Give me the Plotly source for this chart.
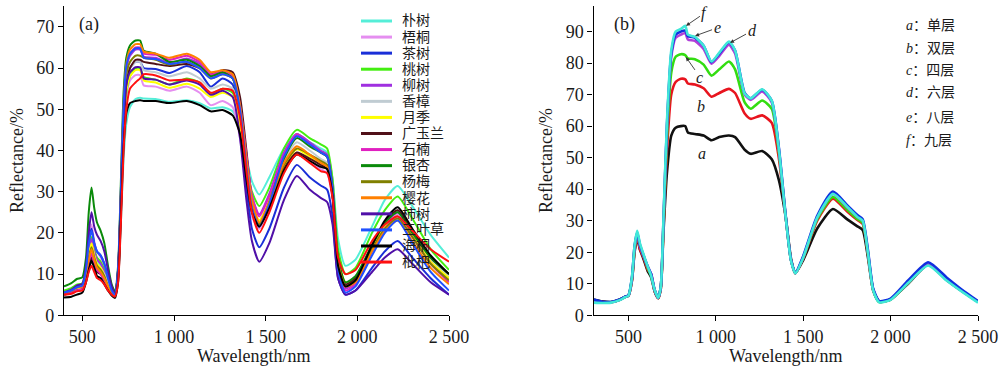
import plotly.graph_objects as go

# ---------------- Panel (a) data ----------------
WL_A = [400, 440, 470, 500, 520, 535, 550, 565, 580, 600, 620, 640, 660, 678, 695, 710, 725, 740, 760, 790,
        815, 835, 900, 975, 1070, 1140, 1200, 1265, 1320, 1360, 1395, 1425, 1465, 1520, 1600, 1670, 1740, 1800,
        1835, 1865, 1895, 1935, 1990, 2080, 2150, 2220, 2300, 2400, 2500]

PU_SHU = [5.5, 6.0, 6.6, 7.0, 10, 15, 18, 15, 13, 12, 10.5, 8, 5.7, 5.0, 9, 22, 38, 46.5, 50.5, 52.5,
          52.8, 52.6, 52.5, 51.8, 52.2, 51.5, 50.2, 50.5, 49.5, 45.5, 38.5, 32.5, 29.3, 33.5, 40.5, 44, 42, 40.5,
          39.5, 33, 18.5, 12, 13.5, 21.5, 28, 31.4, 26.5, 19.5, 14]
WU_TONG = [5.5, 5.9, 6.6, 7.0, 11, 18, 22, 18, 15.5, 14, 12, 8.5, 6, 5.0, 10, 25, 43, 53, 57, 58.3,
           58.3, 55.8, 55.5, 54.5, 55.5, 54, 51, 52, 50.5, 43, 32, 24, 21, 26, 35, 39.5, 37.5, 35.5,
           34.5, 28, 12, 7, 8.5, 16, 21.5, 24.5, 20, 13, 8.5]
CHA_SHU = [5.0, 5.5, 6.2, 6.6, 11, 18, 21, 17.5, 15.5, 14.5, 12.5, 9.5, 6, 5.0, 11, 28, 48, 56.5, 60, 61.5,
           61.5, 60, 59.8, 58.8, 60.5, 59, 55.5, 57.5, 56, 46, 31, 21, 16.5, 21, 31, 36.5, 33.5, 31.5,
           30.5, 24, 9, 5, 6, 11.5, 15.5, 18, 14, 9, 5]
TAO_SHU = [6.0, 6.6, 7.4, 7.8, 11, 16, 19, 16, 14, 13, 11, 8, 6, 5.5, 10, 26, 45, 54, 58, 60,
           60, 57.8, 57.2, 56, 57.5, 56.5, 53.8, 55, 54, 48, 37, 30, 26.5, 31, 40.5, 45, 43, 41.5,
           40.5, 33, 16, 10, 11.5, 20, 25.5, 28.8, 23.5, 16, 11]
LIU_SHU = [5.5, 6.0, 6.8, 7.2, 10.5, 15.5, 18.5, 15.5, 13.5, 12.5, 10.5, 7.5, 5.5, 5.0, 11, 30, 51, 60, 63, 64.5,
           64.5, 62.8, 62.5, 61.3, 62.3, 61, 58.2, 58.8, 57.8, 51, 39, 29, 24.5, 29.5, 39.5, 44, 42, 40,
           39, 31, 12, 6.5, 8, 16, 22, 25, 20, 13, 9]
XIANG_ZHANG = [5.5, 6.0, 6.7, 7.0, 10, 14.5, 17, 14.5, 12.5, 11.5, 10, 7.5, 5.5, 5.0, 10, 28, 48, 57, 60, 61.5,
               61.5, 59.5, 59, 58, 59, 57.5, 55, 56, 55, 48, 36, 27, 23, 28, 37.5, 42, 40, 38,
               37, 30, 13, 8, 9.5, 17, 22.5, 25.5, 20.5, 13.5, 9.5]
YUE_JI = [5.0, 5.5, 6.2, 6.6, 10, 14.5, 17.5, 14.5, 12.5, 11.5, 9.5, 7, 5, 4.6, 10, 27, 46, 54.5, 58, 59.5,
          59.5, 57, 56.5, 55.2, 56.2, 55, 53, 54, 53, 46, 35, 27, 23, 27.5, 36, 40.3, 38.5, 37,
          36, 29, 13, 8, 9, 16.5, 21.5, 24, 19.5, 13, 9]
GUANG_YU_LAN = [5.0, 5.4, 6.0, 6.4, 9, 12, 14, 12, 10.5, 10, 8.5, 6.5, 5, 4.5, 9, 25, 45, 56, 60, 62,
                62, 61.5, 61, 60.5, 61, 60, 58.5, 59.5, 59, 53, 40, 28, 22, 26.5, 35.5, 39.5, 38, 36.5,
                35.5, 29, 13, 7.5, 9, 17, 22.5, 25.5, 20.5, 14, 10]
SHI_NAN = [5.0, 5.4, 6.0, 6.4, 9.5, 13, 15, 12.5, 11, 10, 8.5, 6.5, 5, 4.7, 10, 28, 50, 60, 63.5, 65,
           65, 63.5, 63.2, 62, 63, 61.5, 58.5, 59.2, 58, 51, 39, 29, 24, 29, 39, 44, 41.5, 39.5,
           38.5, 31, 12, 6, 7.5, 15.5, 21, 24, 19, 12.5, 8]
YIN_XING = [7.0, 7.8, 8.8, 9.2, 14, 25, 31, 26, 22.5, 20.5, 17.5, 12, 7.5, 5.8, 12, 32, 54, 62.5, 65.5, 66.7,
            66.7, 64.2, 63.5, 61.5, 62, 60.5, 58, 59, 57.5, 50, 37, 27, 22, 27.5, 38, 43, 41, 39.5,
            38.5, 31, 14, 8, 9.5, 17, 22.5, 25, 20, 14, 10]
YANG_MEI = [5.5, 6.0, 6.8, 7.2, 10.5, 14, 16.5, 14, 12, 11, 9.5, 7, 5.2, 4.8, 10, 28, 49, 58.5, 61.5, 63,
            63, 62.5, 62, 60.8, 61.5, 60, 57.5, 58.5, 57.5, 50, 37, 27, 22, 27, 36.5, 40.5, 39, 37.5,
            36.5, 29.5, 13, 7, 8.5, 16, 21, 23.5, 19, 12.5, 8.5]
YING_HUA = [5.5, 6.0, 6.7, 7.0, 10, 13.5, 16, 13.5, 11.5, 10.5, 9, 7, 5.2, 4.8, 10, 29, 51, 61, 64.5, 65.8,
            65.8, 64, 63.5, 62.5, 63.5, 62, 59, 59.5, 58.5, 51, 38, 28, 22.5, 27.5, 37, 41, 39, 37,
            36, 29, 12.5, 7, 8, 15.5, 20.5, 23, 18, 11.5, 7.5]
SHI_SHU = [5.5, 6.2, 7.2, 7.6, 12, 20, 25, 21.5, 19.5, 18, 15.5, 11, 7, 5.2, 11, 28, 47, 56, 59, 60.2,
           60.2, 57.5, 57.2, 56, 57, 56, 53.5, 54.5, 53, 43, 28, 18, 13, 17.5, 28, 33.8, 30.5, 28.5,
           27.5, 22, 9, 5, 6, 10.5, 14, 16, 12.5, 8, 5]
SAN_YE_CAO = [5.5, 6.0, 6.8, 7.2, 11, 17.5, 20.5, 17.5, 15.5, 14.5, 12.5, 9, 6, 5.0, 11, 30, 51, 60.5, 63.5, 64.8,
              64.8, 62.5, 62.2, 61, 61.5, 60, 57.5, 58.5, 57.5, 50, 36, 26, 21.5, 27, 38.5, 43.5, 41.5, 39.5,
              38.5, 30.5, 11, 5.5, 7, 14.5, 20, 23, 17.5, 10.5, 6]
HAI_TONG = [4.3, 4.5, 5.0, 5.5, 8, 11, 13.2, 11.5, 9.5, 9, 7.5, 6, 4.8, 4.2, 8, 24, 41, 49, 51.5, 52,
            52.2, 52, 52, 51.5, 52, 51, 49.5, 49.8, 48.5, 44, 33, 25, 21.5, 26, 35, 39, 37.5, 36,
            35.5, 29, 12, 7, 8.5, 17, 23, 26.2, 21, 14.5, 10]
PI_PA = [5.0, 5.2, 5.8, 6.0, 8, 10.5, 12, 10.5, 9, 8.5, 7.5, 6, 5, 4.5, 8, 22, 40, 50, 55, 56.5,
         57.5, 58.5, 58.2, 57, 57.2, 56.5, 54, 55, 54.5, 48, 35, 25, 20, 25, 34.5, 39, 37, 35,
         34.5, 28.5, 14, 10, 11, 18, 22, 24, 20.5, 16, 13]

NAMES_A = ["朴树", "梧桐", "茶树", "桃树", "柳树", "香樟", "月季", "广玉兰",
           "石楠", "银杏", "杨梅", "樱花", "柿树", "三叶草", "海桐", "枇杷"]
SERIES_A = [PU_SHU, WU_TONG, CHA_SHU, TAO_SHU, LIU_SHU, XIANG_ZHANG, YUE_JI, GUANG_YU_LAN,
            SHI_NAN, YIN_XING, YANG_MEI, YING_HUA, SHI_SHU, SAN_YE_CAO, HAI_TONG, PI_PA]
COLORS_A = ["#55EED8", "#E58EF0", "#1A2FD8", "#44EE11", "#A030E0", "#C0CCD2", "#FFFF00", "#501018",
            "#E020C0", "#0A8A0A", "#808000", "#FF8000", "#5010A8", "#2050FF", "#000000", "#FF1010"]

# ---------------- Panel (b) data ----------------
WL_B = [300, 350, 400, 450, 480, 500, 520, 535, 550, 565, 585, 610, 630, 650, 670, 685, 700, 720, 745, 770,
        800, 825, 840, 880, 930, 975, 1020, 1075, 1110, 1165, 1200, 1265, 1320, 1360, 1400, 1430, 1455, 1500,
        1580, 1670, 1750, 1810, 1840, 1870, 1900, 1935, 2000, 2100, 2215, 2320, 2420, 2500]

LAYER_1 = [5.0, 4.4, 4.2, 5.0, 5.8, 6.2, 11, 20, 24.5, 21, 18, 14, 12, 7.5, 5.4, 8.5, 26, 45, 57, 59.5,
           60, 60, 58, 57.5, 57, 55.5, 56.5, 57, 56.5, 52.5, 51.2, 52.1, 49.5, 43, 31, 18, 13.3, 17.5,
           27.5, 33.7, 30.5, 28.2, 27, 18.5, 8, 4.3, 5, 10, 16, 11.2, 7.2, 4.3]
LAYER_2 = [4.5, 4.2, 4.1, 4.9, 5.8, 6.2, 11, 20.5, 25, 21, 18.5, 14.5, 13, 7.5, 5.4, 8.5, 27, 52, 70, 74,
           75, 74.8, 73.5, 73.2, 72, 69.3, 70.5, 71.8, 70.5, 64, 62.3, 63.4, 61, 50, 31, 17.5, 13.3, 18,
           30, 37, 33, 30.2, 29, 19.5, 8, 4.3, 5, 10.2, 16, 11.3, 7.2, 4.3]
LAYER_4 = [4.5, 4.1, 4.1, 4.9, 5.8, 6.2, 11.5, 21, 25.8, 22, 19, 15, 12.5, 7.8, 5.5, 9, 28, 56, 77, 82,
           82.8, 82.5, 81.5, 81.2, 79.5, 76, 78, 80.5, 78, 67.5, 65.5, 68.1, 65.5, 52, 31, 17.5, 13.3, 18.3,
           30.5, 37.5, 33.5, 30.5, 29.3, 19.8, 8, 4.2, 5, 10.3, 16.2, 11.4, 7.2, 4.2]
LAYER_6 = [4.6, 4.2, 4.1, 4.9, 5.8, 6.2, 11.5, 21.5, 26, 22, 19, 15.5, 13, 8, 5.5, 9, 29, 59, 82, 88,
           89, 89.5, 87.5, 87, 84.5, 79.8, 82.3, 85.8, 83, 70, 68.3, 71, 67.5, 53, 31, 17.5, 13.3, 18.5,
           31, 38.5, 34.3, 31.2, 30, 20.3, 8.2, 4.3, 5.1, 10.5, 16.5, 11.6, 7.3, 4.3]
LAYER_8 = [5.0, 4.3, 4.2, 5.0, 5.9, 6.3, 12, 22, 26.3, 22.5, 19.2, 15.5, 13, 8, 5.6, 9, 29.5, 60, 83, 89,
           90, 90.3, 88.5, 88, 85.5, 80.3, 83, 86.6, 84, 70.5, 68.8, 71.5, 68, 53.5, 31.5, 17.5, 13.5, 18.8,
           31.5, 39.2, 35, 31.8, 30.5, 20.8, 8.5, 4.5, 5.3, 11, 16.8, 12, 7.6, 4.5]
LAYER_9 = [4.0, 3.9, 4.0, 4.8, 5.7, 6.2, 12, 22, 26.8, 23, 19.5, 15.5, 12.5, 8, 5.5, 9, 30, 61, 84, 90,
           90.8, 91.8, 89, 88.3, 85.5, 80.5, 83.3, 86.8, 84, 70.3, 68.8, 71.7, 68, 53, 31, 17.3, 13.3, 18.3,
           31, 38.5, 34.5, 31.2, 30, 20, 8, 4.1, 4.9, 10.2, 15.8, 11, 7, 4]

SERIES_B = [LAYER_1, LAYER_2, LAYER_4, LAYER_6, LAYER_8, LAYER_9]
LETTERS_B = ["a", "b", "c", "d", "e", "f"]
LAYER_NAMES_B = ["单层", "双层", "四层", "六层", "八层", "九层"]
COLORS_B = ["#111111", "#E8141E", "#33DD11", "#B040D8", "#1030E0", "#40E8D8"]

# curve-label positions in panel (b): (letter, wavelength, reflectance, text dx px, text dy px, arrow)
CURVE_LABELS_B = [
    ("f", 829, 91.8, 19, -13, True),
    ("e", 881, 88.6, 22, -8, True),
    ("d", 1081, 86.4, 22, -12, True),
    ("c", 829, 81.9, 14, 20, True),
    ("b", 915, 66.1, 0, 0, False),
    ("a", 921, 51.2, 0, 0, False),
]

X_TICKS = [500, 1000, 1500, 2000, 2500]
X_TICKTEXT = ["500", "1 000", "1 500", "2 000", "2 500"]
Y_TICKS_A = [0, 10, 20, 30, 40, 50, 60, 70]
Y_TICKS_B = [0, 10, 20, 30, 40, 50, 60, 70, 80, 90]

# ---------------- figure ----------------
W, H = 1000, 370
SERIF = "Liberation Serif, Times New Roman, serif"
CJK = "Liberation Serif, Noto Sans CJK SC, serif"
TXT = "#1a1a1a"


def px(x):
    return x / W


def py(y):
    return 1 - y / H


fig = go.Figure()
for name, vals, color in zip(NAMES_A, SERIES_A, COLORS_A):
    fig.add_trace(go.Scatter(x=WL_A, y=vals, mode="lines", name=name, showlegend=False,
                             line=dict(color=color, width=2, shape="spline", smoothing=0.6),
                             xaxis="x", yaxis="y", hoverinfo="skip"))
for letter, vals, color in zip(LETTERS_B, SERIES_B, COLORS_B):
    fig.add_trace(go.Scatter(x=WL_B, y=vals, mode="lines", name=letter, showlegend=False,
                             line=dict(color=color, width=2.6, shape="spline", smoothing=0.6),
                             xaxis="x2", yaxis="y2", hoverinfo="skip"))

axis_common = dict(showline=True, linecolor="black", linewidth=1.3, ticks="outside", ticklen=5,
                   tickwidth=1.2, tickcolor="black", showgrid=False, zeroline=False,
                   tickfont=dict(family=SERIF, size=18, color=TXT), automargin=False)

fig.update_layout(
    width=W, height=H, margin=dict(l=0, r=0, t=0, b=0),
    paper_bgcolor="white", plot_bgcolor="white", showlegend=False,
    xaxis=dict(domain=[0.064, 0.449], range=[400, 2500], tickvals=X_TICKS, ticktext=X_TICKTEXT,
               anchor="y", **axis_common),
    yaxis=dict(domain=[0.148, 0.983], range=[0, 75], tickvals=Y_TICKS_A, anchor="x", **axis_common),
    xaxis2=dict(domain=[0.5935, 0.978], range=[300, 2500], tickvals=X_TICKS, ticktext=X_TICKTEXT,
                anchor="y2", **axis_common),
    yaxis2=dict(domain=[0.148, 0.983], range=[0, 98], tickvals=Y_TICKS_B, anchor="x2", **axis_common),
)

ann = []
shapes = []
# axis titles
for xc in (254, 786):
    ann.append(dict(x=px(xc), y=py(356), xref="paper", yref="paper", text="Wavelength/nm",
                    showarrow=False, font=dict(family=SERIF, size=18, color=TXT),
                    xanchor="center", yanchor="middle"))
for xc in (17, 546):
    ann.append(dict(x=px(xc), y=py(161), xref="paper", yref="paper", text="Reflectance/%",
                    showarrow=False, textangle=-90, font=dict(family=SERIF, size=18, color=TXT),
                    xanchor="center", yanchor="middle"))
# panel labels
ann.append(dict(x=px(77), y=py(25), xref="paper", yref="paper", text="(a)", showarrow=False,
                font=dict(family=SERIF, size=18, color=TXT), xanchor="left", yanchor="middle"))
ann.append(dict(x=px(612), y=py(25), xref="paper", yref="paper", text="(b)", showarrow=False,
                font=dict(family=SERIF, size=18, color=TXT), xanchor="left", yanchor="middle"))

# legend of panel (a)
for i, (name, color) in enumerate(zip(NAMES_A, COLORS_A)):
    yc = 21 + 16.07 * i
    shapes.append(dict(type="line", xref="paper", yref="paper", x0=px(361), x1=px(392),
                       y0=py(yc), y1=py(yc), line=dict(color=color, width=3)))
    ann.append(dict(x=px(400), y=py(yc), xref="paper", yref="paper", text=name, showarrow=False,
                    font=dict(family=CJK, size=14, color=TXT), xanchor="left", yanchor="middle"))

# key of panel (b)
KEY_Y = [26, 49, 70, 92, 117, 140]
for letter, lname, yc in zip(LETTERS_B, LAYER_NAMES_B, KEY_Y):
    ann.append(dict(x=px(904), y=py(yc), xref="paper", yref="paper",
                    text="<i>%s</i>：%s" % (letter, lname), showarrow=False,
                    font=dict(family=CJK, size=14, color=TXT), xanchor="left", yanchor="middle"))

# curve labels in panel (b)
for letter, xw, yv, dx, dy, arrow in CURVE_LABELS_B:
    if arrow:
        ann.append(dict(x=xw, y=yv, xref="x2", yref="y2", text="<i>%s</i>" % letter,
                        showarrow=True, ax=dx, ay=dy, arrowhead=2, arrowsize=0.9, arrowwidth=0.9,
                        arrowcolor="#333333", standoff=0, startstandoff=0,
                        font=dict(family=SERIF, size=16, color=TXT)))
    else:
        ann.append(dict(x=xw, y=yv, xref="x2", yref="y2", text="<i>%s</i>" % letter,
                        showarrow=False, font=dict(family=SERIF, size=16, color=TXT),
                        xanchor="center", yanchor="middle"))

fig.update_layout(annotations=ann, shapes=shapes)
fig.write_html("out.html", config={"displayModeBar": False},
               post_script="document.body.style.margin='0px';document.body.style.overflow='hidden';")
